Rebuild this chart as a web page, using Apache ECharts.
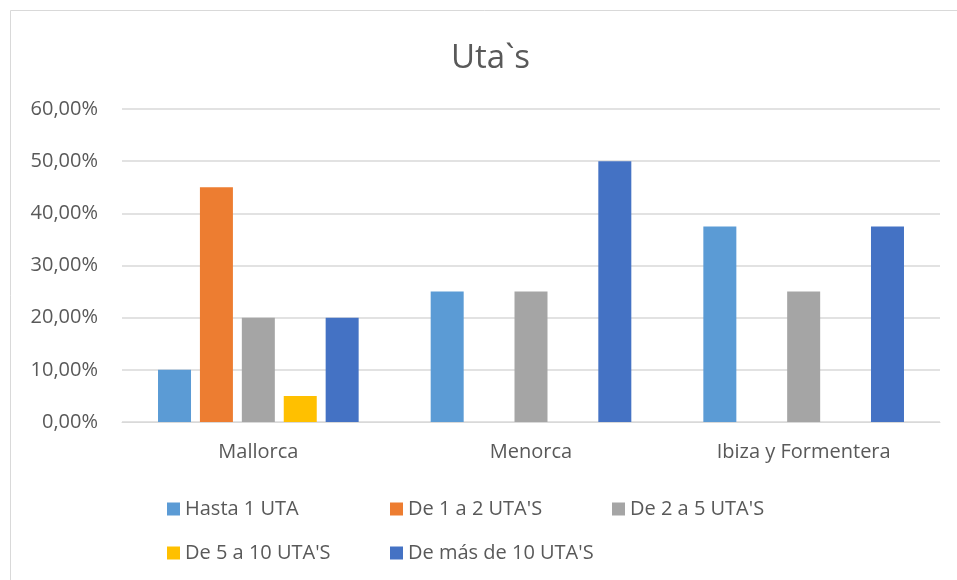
<!DOCTYPE html>
<html>
<head>
<meta charset="utf-8">
<script src="https://cdn.jsdelivr.net/npm/echarts@6/dist/echarts.min.js"></script>
<style>
  html, body { margin: 0; padding: 0; background: #fff; }
  #main { width: 957px; height: 580px; }
</style>
</head>
<body>
<div id="main"></div>
<script>
const categories = ['Mallorca', 'Menorca', 'Ibiza y Formentera'];
const seriesNames = ['Hasta 1 UTA', "De 1 a 2 UTA'S", "De 2 a 5 UTA'S", "De 5 a 10 UTA'S", "De más de 10 UTA'S"];
const hasta1 = [10, 25, 37.5];
const de1a2 = [45, 0, 0];
const de2a5 = [20, 25, 25];
const de5a10 = [5, 0, 0];
const masDe10 = [20, 50, 37.5];
const colors = ['#5B9BD5', '#ED7D31', '#A5A5A5', '#FFC000', '#4472C4'];

const chartDom = document.getElementById('main');
const myChart = echarts.init(chartDom);

const font = "'Open Sans', 'Noto Sans', sans-serif";
const values = [hasta1, de1a2, de2a5, de5a10, masDe10];

// one legend per item so each sits at its own slot, like the original
const legendPos = [[162, 494], [385, 494], [607, 494], [162, 538], [385, 538]];
const legends = seriesNames.map((name, i) => ({
  data: [name],
  left: legendPos[i][0],
  top: legendPos[i][1],
  icon: 'rect',
  itemWidth: 13,
  itemHeight: 13,
  itemGap: 8,
  selectedMode: false,
  textStyle: { color: '#595959', fontSize: 20, fontFamily: font }
}));

const option = {
  backgroundColor: '#fff',
  animation: false,
  title: {
    text: 'Uta`s',
    left: 446,
    top: 37,
    textStyle: { color: '#595959', fontSize: 33, fontWeight: 'normal', fontFamily: font }
  },
  graphic: [{
    type: 'rect',
    shape: { x: 10.5, y: 10.5, width: 960, height: 600 },
    style: { fill: 'none', stroke: '#d9d9d9', lineWidth: 1 },
    silent: true
  }],
  legend: legends,
  grid: { left: 122, right: 17, top: 109, bottom: 158 },
  xAxis: {
    type: 'category',
    data: categories,
    axisTick: { show: false },
    axisLine: { lineStyle: { color: '#d9d9d9' } },
    axisLabel: { color: '#595959', fontSize: 20, fontFamily: font, margin: 20 }
  },
  yAxis: {
    type: 'value',
    min: 0,
    max: 60,
    interval: 10,
    axisLine: { show: false },
    axisTick: { show: false },
    splitLine: { lineStyle: { color: '#d9d9d9', width: 1.5 } },
    axisLabel: {
      color: '#595959',
      fontSize: 20,
      fontFamily: font,
      margin: 24,
      formatter: v => v.toFixed(2).replace('.', ',') + '%'
    }
  },
  series: seriesNames.map((name, i) => ({
    name: name,
    type: 'bar',
    data: values[i],
    barWidth: 33,
    barGap: '27%',
    itemStyle: { color: colors[i] }
  }))
};

myChart.setOption(option);
</script>
</body>
</html>
